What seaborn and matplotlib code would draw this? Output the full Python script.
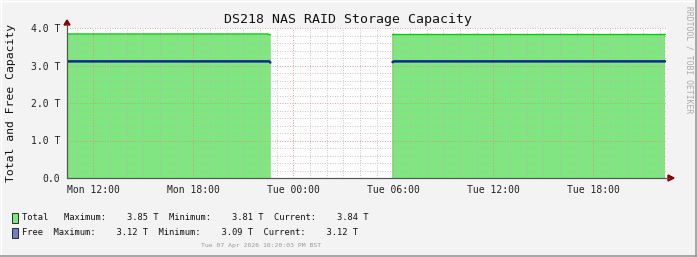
import numpy as np
import pandas as pd
import matplotlib
matplotlib.use("Agg")
import matplotlib.pyplot as plt
from matplotlib.ticker import MultipleLocator, FixedLocator
from matplotlib.patches import Rectangle
from matplotlib.lines import Line2D
import seaborn as sns

# ---- data (hours since Monday 00:00); segment marks the data gap ----
time_hours = [10.42, 22.40, 22.55, 22.62, 29.95, 30.05, 46.30]
segment = [1, 1, 1, 1, 2, 2, 2]
total_tb = [3.84, 3.84, 3.83, 3.82, 3.84, 3.84, 3.84]
free_tb = [3.11, 3.11, 3.11, 3.08, 3.09, 3.11, 3.11]

x_tick_pos = [12, 18, 24, 30, 36, 42]
x_tick_labels = ["Mon 12:00", "Mon 18:00", "Tue 00:00", "Tue 06:00", "Tue 12:00", "Tue 18:00"]
y_tick_pos = [0, 1, 2, 3, 4]
y_tick_labels = ["0.0", "1.0 T", "2.0 T", "3.0 T", "4.0 T"]

total_stats = {"Maximum": "3.85 T", "Minimum": "3.81 T", "Current": "3.84 T"}
free_stats = {"Maximum": "3.12 T", "Minimum": "3.09 T", "Current": "3.12 T"}

title = "DS218 NAS RAID Storage Capacity"
ylabel = "Total and Free Capacity"
timestamp = "Tue 07 Apr 2026 10:20:03 PM BST"
watermark = "RRDTOOL / TOBI OETIKER"

df = pd.DataFrame({"hours": time_hours, "segment": segment,
                   "total": total_tb, "free": free_tb})

# ---- style ----
sns.set_theme(style="white")
plt.rcParams["font.family"] = ["DejaVu Sans Mono", "DejaVu Sans"]

W, H = 697, 257
fig = plt.figure(figsize=(W / 100, H / 100), dpi=100, facecolor="#f3f3f3")
L, R, T, B = 67, 667, 28, 178
ax = fig.add_axes([L / W, 1 - B / H, (R - L) / W, (B - T) / H])
ax.set_facecolor("white")

fill_c = "#80e680"
total_c = "#00cc00"
free_c = "#0a2a8f"

for seg, part in df.groupby("segment"):
    ax.fill_between(part["hours"], 0, part["total"], color=fill_c, linewidth=0, zorder=1)
sns.lineplot(data=df, x="hours", y="total", units="segment", estimator=None, ax=ax,
             color=total_c, linewidth=1.0, zorder=3, sort=False)
sns.lineplot(data=df, x="hours", y="free", units="segment", estimator=None, ax=ax,
             color=free_c, linewidth=1.8, zorder=3, sort=False)

ax.set_xlim(10.42, 46.42)
ax.set_ylim(0, 4.0)

ax.xaxis.set_major_locator(FixedLocator(x_tick_pos))
ax.set_xticklabels(x_tick_labels)
ax.xaxis.set_minor_locator(MultipleLocator(1))
ax.yaxis.set_major_locator(FixedLocator(y_tick_pos))
ax.set_yticklabels(y_tick_labels)
ax.yaxis.set_minor_locator(MultipleLocator(0.2))

ax.set_axisbelow(False)
ax.grid(which="minor", color="#b5b5b5", linestyle=(0, (1, 2)), linewidth=0.6)
ax.grid(which="major", color="#e08080", linestyle=(0, (1, 2)), linewidth=0.6)

ax.tick_params(axis="both", which="major", labelsize=7, colors="#222222",
               length=3, width=0.6, direction="out", pad=2)
ax.tick_params(axis="x", which="minor", length=0)
ax.tick_params(axis="y", which="minor", length=2, width=0.5)
ax.tick_params(axis="x", which="major", pad=2)

for s in ["top", "right"]:
    ax.spines[s].set_visible(False)
for s in ["left", "bottom"]:
    ax.spines[s].set_color("#555555")
    ax.spines[s].set_linewidth(0.8)

ax.set_xlabel("")
ax.set_ylabel("")

# arrows
arrow_c = "#8b0000"
fig.patches.append(plt.Polygon([[L / W - 3 / W, 1 - 25 / H], [L / W + 3 / W, 1 - 25 / H],
                                [L / W, 1 - 20 / H]], closed=True, transform=fig.transFigure,
                               color=arrow_c))
fig.patches.append(plt.Polygon([[668 / W, 1 - 175 / H], [668 / W, 1 - 181 / H],
                                [674 / W, 1 - 178 / H]], closed=True, transform=fig.transFigure,
                               color=arrow_c))
fig.add_artist(Line2D([L / W, L / W], [1 - B / H, 1 - 24 / H], color="#555555", lw=0.8))
fig.add_artist(Line2D([L / W, 669 / W], [1 - B / H, 1 - B / H], color="#555555", lw=0.8))

# title, labels
fig.text(348 / W, 1 - 20 / H, title, ha="center", va="center", fontsize=9.5, color="#111111")
fig.text(11 / W, 1 - 103 / H, ylabel, ha="center", va="center", rotation=90,
         fontsize=8.2, color="#111111")
fig.text(689 / W, 1 - 60 / H, watermark, ha="center", va="center", rotation=270,
         fontsize=5.8, color="#aaaaaa")

# legend
def stats_line(name, pad, st):
    return (f"{name}{pad}Maximum:    {st['Maximum']}  Minimum:    {st['Minimum']}"
            f"  Current:    {st['Current']}")

legend_rows = [("Total", "   ", total_stats, "#80e680", 218),
               ("Free", "  ", free_stats, "#6f7fbf", 232.5)]
for name, pad, st, col, yy in legend_rows:
    fig.patches.append(Rectangle((12 / W, 1 - (yy + 5) / H), 6 / W, 10 / H,
                                 transform=fig.transFigure, facecolor=col,
                                 edgecolor="#111111", linewidth=0.6))
    fig.text(22 / W, 1 - yy / H, stats_line(name, pad, st), ha="left", va="center",
             fontsize=6.3, color="#111111")

fig.text(261 / W, 1 - 246 / H, timestamp, ha="center", va="center", fontsize=4.6,
         color="#999999")

# frame
fig.add_artist(Line2D([0.5 / W, 0.5 / W], [0, 1], color="#ffffff", lw=1))
fig.add_artist(Line2D([0, 1], [1 - 0.5 / H, 1 - 0.5 / H], color="#ffffff", lw=1))
fig.add_artist(Line2D([1 - 1 / W, 1 - 1 / W], [0, 1], color="#999999", lw=1.2))
fig.add_artist(Line2D([0, 1], [1 / H, 1 / H], color="#999999", lw=1.2))

fig.savefig("out.png", dpi=100, facecolor=fig.get_facecolor())
